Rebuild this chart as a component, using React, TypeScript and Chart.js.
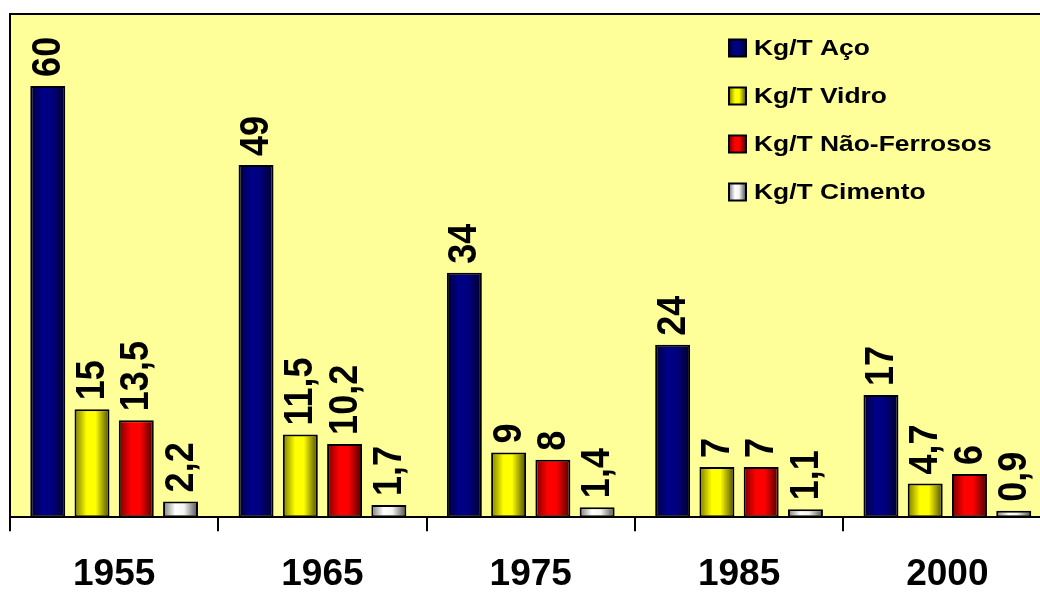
import React, { useEffect, useRef } from 'react';
import { Chart, registerables } from 'chart.js';

Chart.register(...registerables);

const categories = ['1955', '1965', '1975', '1985', '2000'];
const seriesNames = ['Kg/T Aço', 'Kg/T Vidro', 'Kg/T Não-Ferrosos', 'Kg/T Cimento'];
const aco = [60, 49, 34, 24, 17];
const vidro = [15, 11.5, 9, 7, 4.7];
const naoFerrosos = [13.5, 10.2, 8, 7, 6];
const cimento = [2.2, 1.7, 1.4, 1.1, 0.9];
const yMin = 0;
const yMax = 70;

const gradientStops: string[][] = [
  ['#000038', '#000088', '#000080', '#00002c'],
  ['#7a7a00', '#ffff00', '#ffff00', '#4a4a00'],
  ['#7a0000', '#ff0000', '#ff0000', '#4a0000'],
  ['#7a7a7a', '#ffffff', '#f4f4f4', '#4a4a4a'],
];
const flatColors = ['#000080', '#ffff00', '#ff0000', '#e0e0e0'];

const CAT_PCT = 0.85;
const BAR_PCT = 0.79;
const FONT = 'Arial, "Liberation Sans", sans-serif';

function makeGradient(ctx: CanvasRenderingContext2D, x0: number, x1: number, di: number) {
  const g = ctx.createLinearGradient(x0, 0, x1, 0);
  const s = gradientStops[di];
  g.addColorStop(0, s[0]);
  g.addColorStop(0.35, s[1]);
  g.addColorStop(0.6, s[2]);
  g.addColorStop(1, s[3]);
  return g;
}

function barBg(c: any) {
  const chart = c.chart;
  const xs = chart.scales?.x;
  const di = c.datasetIndex;
  if (!xs || c.dataIndex === undefined || !chart.chartArea) return flatColors[di];
  const n = chart.data.datasets.length;
  const catW = (xs.right - xs.left) / chart.data.labels.length;
  const center = xs.getPixelForValue(c.dataIndex);
  const slot = (catW * CAT_PCT) / n;
  const bc = center - (catW * CAT_PCT) / 2 + slot * (di + 0.5);
  const w = slot * BAR_PCT;
  return makeGradient(chart.ctx, bc - w / 2, bc + w / 2, di);
}

const bgPlugin = {
  id: 'bgPlugin',
  beforeDraw(chart: any) {
    const { ctx, chartArea: a } = chart;
    ctx.save();
    ctx.fillStyle = '#ffff99';
    ctx.fillRect(a.left, a.top, a.right - a.left, a.bottom - a.top);
    ctx.restore();
  },
  afterDraw(chart: any) {
    const { ctx, chartArea: a } = chart;
    ctx.save();
    ctx.strokeStyle = '#000000';
    ctx.lineWidth = 2;
    ctx.beginPath();
    ctx.moveTo(a.left, a.bottom);
    ctx.lineTo(a.left, a.top);
    ctx.lineTo(a.right, a.top);
    ctx.stroke();
    ctx.restore();
  },
};

const labelPlugin = {
  id: 'labelPlugin',
  afterDatasetsDraw(chart: any) {
    const ctx = chart.ctx;
    chart.data.datasets.forEach((ds: any, di: number) => {
      const meta = chart.getDatasetMeta(di);
      meta.data.forEach((el: any, i: number) => {
        const txt = String(ds.data[i]).replace('.', ',');
        ctx.save();
        ctx.translate(el.x + 1, el.y - 9);
        ctx.scale(1.12, 1);
        ctx.rotate(-Math.PI / 2);
        ctx.font = `bold 36px ${FONT}`;
        ctx.fillStyle = '#000000';
        ctx.textAlign = 'left';
        ctx.textBaseline = 'middle';
        ctx.fillText(txt, 0, 0);
        ctx.restore();
      });
    });
  },
};

const legendPlugin = {
  id: 'customLegend',
  afterDraw(chart: any) {
    const ctx = chart.ctx;
    const x0 = 729;
    const y0 = 48;
    const step = 48;
    chart.data.datasets.forEach((ds: any, di: number) => {
      const cy = y0 + di * step;
      ctx.save();
      ctx.fillStyle = makeGradient(ctx, x0, x0 + 17, di);
      ctx.fillRect(x0, cy - 8.5, 17, 17);
      ctx.strokeStyle = '#000000';
      ctx.lineWidth = 2;
      ctx.strokeRect(x0, cy - 8.5, 17, 17);
      ctx.translate(x0 + 25, cy + 1);
      ctx.scale(1.2, 1);
      ctx.font = `bold 22px ${FONT}`;
      ctx.fillStyle = '#000000';
      ctx.textAlign = 'left';
      ctx.textBaseline = 'middle';
      ctx.fillText(ds.label, 0, 0);
      ctx.restore();
    });
  },
};

export default function App() {
  const ref = useRef<HTMLCanvasElement | null>(null);
  useEffect(() => {
    if (!ref.current) return;
    const series = [aco, vidro, naoFerrosos, cimento];
    const chart = new Chart(ref.current, {
      type: 'bar',
      data: {
        labels: categories,
        datasets: series.map((d, di) => ({
          label: seriesNames[di],
          data: d,
          backgroundColor: barBg as any,
          borderColor: '#000000',
          borderWidth: 2,
          borderSkipped: false,
          categoryPercentage: CAT_PCT,
          barPercentage: BAR_PCT,
        })),
      },
      options: {
        responsive: false,
        animation: false,
        devicePixelRatio: 1,
        layout: { padding: { left: 10, top: 14, right: 8.5, bottom: 0.8 } },
        plugins: {
          legend: { display: false },
          tooltip: { enabled: false },
        },
        scales: {
          x: {
            offset: true,
            grid: {
              display: true,
              offset: true,
              drawOnChartArea: false,
              drawTicks: true,
              tickLength: 14,
              color: '#000000',
              lineWidth: 2,
            },
            border: { display: true, color: '#000000', width: 2 },
            ticks: {
              color: '#000000',
              padding: 21.8,
              font: { family: FONT, size: 37, weight: 'bold', lineHeight: 1.2 },
            },
          },
          y: {
            display: false,
            min: yMin,
            max: yMax,
          },
        },
      },
      plugins: [bgPlugin, labelPlugin, legendPlugin],
    });
    return () => chart.destroy();
  }, []);

  return (
    <div
      style={{
        position: 'fixed',
        left: 0,
        top: 0,
        width: 1040,
        height: 592,
        overflow: 'hidden',
        background: '#ffffff',
      }}
    >
      <canvas ref={ref} width={1060} height={620} style={{ display: 'block' }} />
    </div>
  );
}
